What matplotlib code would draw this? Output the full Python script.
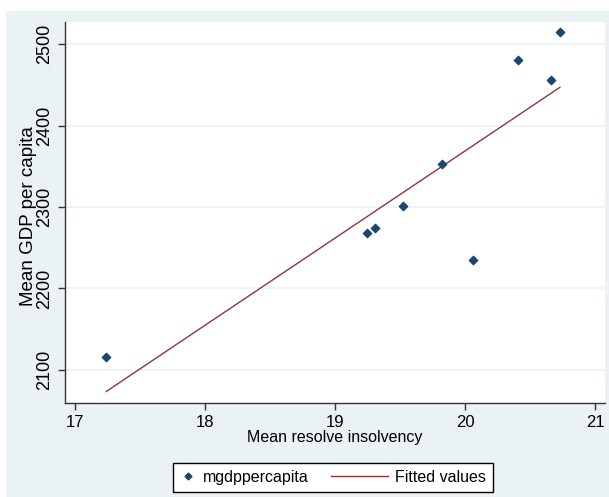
import numpy as np
import matplotlib
matplotlib.use('Agg')
import matplotlib.pyplot as plt
from matplotlib.patches import Rectangle
from matplotlib.lines import Line2D
from matplotlib.legend_handler import HandlerLine2D

plt.rcParams['font.family'] = ['Liberation Sans', 'DejaVu Sans']

# mean resolve insolvency vs mean gdp per capita
insolvency = [17.24, 19.25, 19.31, 19.52, 19.82, 20.06, 20.41, 20.66, 20.73]
gdp = [2116, 2268, 2274, 2301, 2353, 2235, 2480, 2456, 2515]
xticks = [17, 18, 19, 20, 21]
yticks = [2100, 2200, 2300, 2400, 2500]

bg = '#EAF2F3'
navy = '#1A476F'
maroon = '#90353B'


# legend line that reaches further left than the handle box
class LongLine(HandlerLine2D):
    def create_artists(self, legend, orig_handle, xdescent, ydescent, width, height, fontsize, trans):
        ext = 2.6 * width
        y0 = height / 2 - ydescent
        ln = Line2D([-xdescent - ext, -xdescent + width], [y0, y0],
                    color=orig_handle.get_color(), lw=orig_handle.get_linewidth())
        ln.set_transform(trans)
        return [ln]


fig = plt.figure(figsize=(6.09, 4.97), dpi=100)
fig.patch.set_facecolor('white')
# stata style outer background, white strip at top and left
fig.patches.append(Rectangle((6 / 609, 0), 1, 1 - 11 / 497, transform=fig.transFigure,
                             facecolor=bg, edgecolor='none', zorder=-5))

ax = fig.add_axes([65 / 609, 1 - 403 / 497, 540 / 609, 381 / 497])
ax.set_facecolor('white')

# fitted line from a linear fit
x = np.array(insolvency)
y = np.array(gdp)
b, a = np.polyfit(x, y, 1)
xs = np.sort(x)
fit, = ax.plot(xs, a + b * xs, color=maroon, lw=1, zorder=2)
ax.scatter(x, y, marker='D', s=18, color=navy, zorder=3)

ax.set_xlim(16.923, 21.077)
ax.set_ylim(2059.5, 2527)
ax.set_xticks(xticks)
ax.set_yticks(yticks)
ax.set_yticklabels([str(t) for t in yticks], rotation=90, va='center')
ax.tick_params(labelsize=12, length=5, width=1, color='#333333', direction='out')
ax.tick_params(axis='y', labelsize=13)
ax.grid(axis='y', color=bg, lw=1.2)
ax.set_axisbelow(True)
for s in ['top', 'right']:
    ax.spines[s].set_visible(False)
for s in ['left', 'bottom']:
    ax.spines[s].set_color('#333333')
    ax.spines[s].set_linewidth(1)

ax.set_xlabel('Mean resolve insolvency', fontsize=11.5, labelpad=0)
fig.text(29 / 609, 1 - 216 / 497, 'Mean GDP per capita', rotation=90,
         fontsize=13.5, ha='center', va='center')

mk = Line2D([], [], marker='D', ls='none', color=navy, markersize=3.5)
leg = fig.legend([mk, fit], ['mgdppercapita', 'Fitted values'], loc='center',
                 bbox_to_anchor=(333 / 609, 1 - 477.5 / 497), ncol=2, fontsize=11.5,
                 frameon=True, fancybox=False, edgecolor='black', framealpha=1,
                 handlelength=1.0, handletextpad=0.4, columnspacing=4.0, borderpad=0.45,
                 handler_map={fit: LongLine(), mk: HandlerLine2D(numpoints=1)})
leg.get_frame().set_linewidth(1)

fig.savefig('out.png', dpi=100)
